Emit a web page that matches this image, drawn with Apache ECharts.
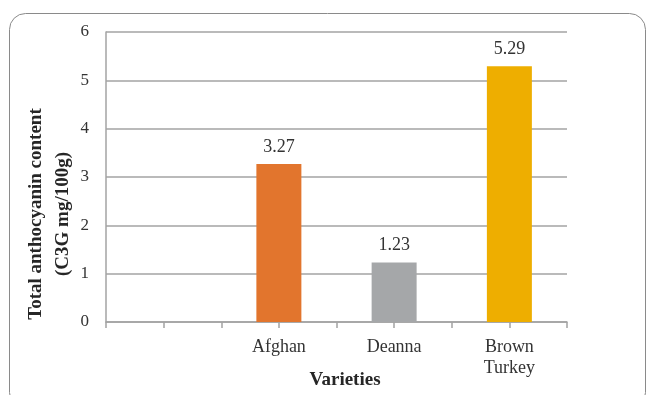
<!DOCTYPE html>
<html>
<head>
<meta charset="utf-8">
<script src="https://cdn.jsdelivr.net/npm/echarts@6/dist/echarts.min.js"></script>
<style>
  html, body { margin: 0; padding: 0; background: #fff; }
  #main { width: 647px; height: 395px; }
</style>
</head>
<body>
<div id="main"></div>
<script>
// data
var categories = ['', 'Afghan', 'Deanna', 'Brown\nTurkey'];
var values = [null, 3.27, 1.23, 5.29];
var barColors = ['#E2752D', '#E2752D', '#A5A7A9', '#EEAE00'];
var yTicks = [0, 1, 2, 3, 4, 5, 6];

// half-category ticks (Excel draws a tick at every boundary and centre)
var halfTicks = [];
categories.forEach(function () { halfTicks.push('', ''); });

var serif = '"Liberation Serif", "Times New Roman", serif';
var gridGray = '#A3A3A3';

var myChart = echarts.init(document.getElementById('main'));
var option = {
    animation: false,
    backgroundColor: '#fff',
    grid: {
        left: 106,
        right: 80,
        top: 32,
        bottom: 73
    },
    xAxis: [
        {
            type: 'category',
            data: categories,
            axisLine: { lineStyle: { color: gridGray, width: 1.5 } },
            axisTick: { show: false },
            axisLabel: {
                color: '#333',
                fontFamily: serif,
                fontSize: 18,
                lineHeight: 21,
                margin: 15,
                interval: 0
            }
        },
        {
            type: 'category',
            data: halfTicks,
            position: 'bottom',
            axisLine: { show: false },
            axisTick: { show: true, interval: 0, length: 6, lineStyle: { color: gridGray, width: 1.5 } },
            axisLabel: { show: false },
            splitLine: { show: false }
        }
    ],
    yAxis: {
        type: 'value',
        min: yTicks[0],
        max: yTicks[yTicks.length - 1],
        interval: 1,
        axisLine: { show: true, lineStyle: { color: gridGray, width: 1.5 } },
        axisTick: { show: false },
        axisLabel: {
            color: '#333',
            fontFamily: serif,
            fontSize: 17,
            margin: 17
        },
        splitLine: { lineStyle: { color: gridGray, width: 1.5 } }
    },
    series: [
        {
            type: 'bar',
            xAxisIndex: 0,
            barWidth: 45,
            data: values.map(function (v, i) {
                return { value: v, itemStyle: { color: barColors[i] } };
            }),
            label: {
                show: true,
                position: 'top',
                distance: 8,
                color: '#333',
                fontFamily: serif,
                fontSize: 18,
                formatter: function (p) { return p.value.toFixed(2); }
            }
        }
    ],
    graphic: [
        {
            type: 'rect',
            shape: { x: 9.5, y: 13.5, width: 636, height: 395, r: 16 },
            style: { fill: 'none', stroke: '#8a8a8a', lineWidth: 1 },
            silent: true
        },
        {
            type: 'text',
            x: 50,
            y: 214,
            rotation: Math.PI / 2,
            style: {
                text: 'Total anthocyanin content\n(C3G mg/100g)',
                align: 'center',
                verticalAlign: 'middle',
                font: 'bold 19px ' + serif,
                lineHeight: 27,
                fill: '#262626'
            }
        },
        {
            type: 'text',
            x: 345,
            y: 380,
            style: {
                text: 'Varieties',
                align: 'center',
                verticalAlign: 'middle',
                font: 'bold 19px ' + serif,
                fill: '#262626'
            }
        }
    ]
};
myChart.setOption(option);
</script>
</body>
</html>
